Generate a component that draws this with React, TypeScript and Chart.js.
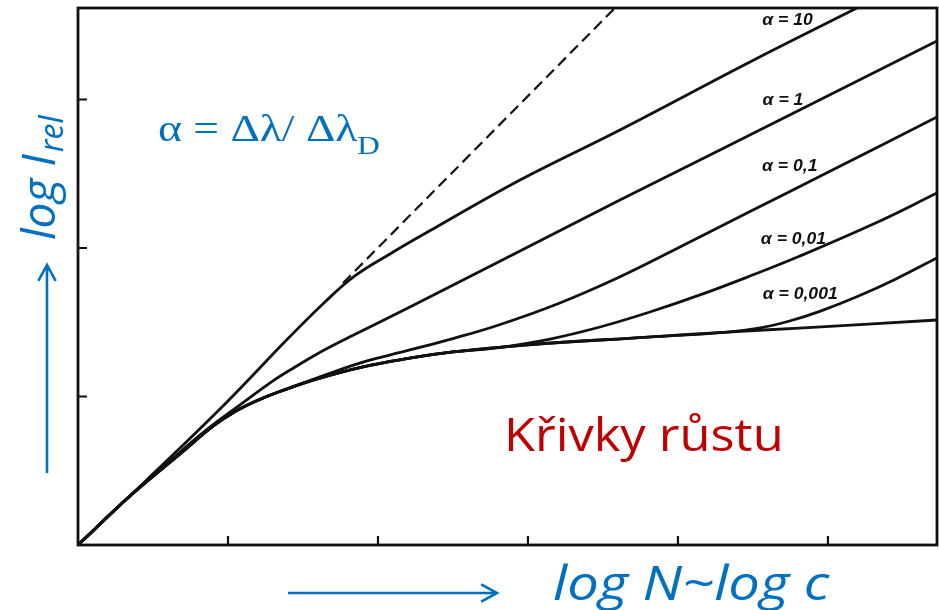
import React, { useEffect, useRef } from "react";
import { Chart, registerables } from "chart.js";

Chart.register(...registerables);

// Axis extents (log N on x, log I_rel on y), in tick units
const X_MAX = 5.727;
const Y_MAX = 3.616;
const xTicks = [1, 2, 3, 4, 5];
const yTicks = [1, 2, 3];

// Curves of growth, one per damping ratio alpha; [log N, log I] pairs
const alpha10: number[][] = [
  [0, 0], [0.35, 0.335], [0.6, 0.575], [1.0, 0.97], [1.4, 1.39], [1.65, 1.64],
  [1.85, 1.815], [2.08, 1.96], [2.367, 2.128], [2.947, 2.458], [3.613, 2.795],
  [4.48, 3.253], [5.193, 3.616],
];
const alpha1: number[][] = [
  [0, 0], [0.35, 0.333], [0.6, 0.555], [0.85, 0.77], [1.08, 0.943], [1.3, 1.105],
  [1.45, 1.2], [1.6, 1.29], [1.8, 1.395], [2.213, 1.603], [2.947, 1.98],
  [3.613, 2.323], [4.28, 2.66], [5.727, 3.394],
];
const alpha01: number[][] = [
  [0, 0], [0.35, 0.333], [0.7, 0.63], [0.9, 0.8], [1.05, 0.9], [1.2, 0.975],
  [1.35, 1.035], [1.6, 1.128], [1.9, 1.232], [2.2, 1.31], [2.5, 1.39], [2.8, 1.48],
  [3.2, 1.625], [3.6, 1.8], [4.0, 2.0], [4.5, 2.255], [5.0, 2.51], [5.727, 2.882],
];
const alpha001: number[][] = [
  [0, 0], [0.35, 0.333], [0.7, 0.63], [0.9, 0.8], [1.05, 0.9], [1.2, 0.975],
  [1.35, 1.035], [1.6, 1.12], [1.9, 1.2], [2.2, 1.256], [2.5, 1.3], [2.793, 1.328],
  [3.147, 1.387], [3.48, 1.468], [3.813, 1.569], [4.147, 1.684], [4.48, 1.811],
  [4.813, 1.946], [5.347, 2.182], [5.727, 2.37],
];
const alpha0001: number[][] = [
  [0, 0], [0.35, 0.333], [0.7, 0.63], [0.9, 0.8], [1.05, 0.9], [1.2, 0.975],
  [1.35, 1.035], [1.6, 1.12], [1.9, 1.2], [2.2, 1.256], [2.5, 1.3], [3.0, 1.348],
  [3.8, 1.4], [4.33, 1.434], [4.55, 1.462], [4.75, 1.51], [4.95, 1.575],
  [5.2, 1.675], [5.45, 1.79], [5.727, 1.933],
];
const pureDoppler: number[][] = [
  [0, 0], [0.35, 0.333], [0.7, 0.63], [0.9, 0.8], [1.05, 0.9], [1.2, 0.975],
  [1.35, 1.035], [1.6, 1.12], [1.9, 1.2], [2.2, 1.256], [2.5, 1.3], [3.0, 1.348],
  [3.8, 1.4], [4.33, 1.434], [4.81, 1.461], [5.727, 1.515],
];
// Linear (optically thin) asymptote
const linearAsymptote: number[][] = [[1.767, 1.764], [3.58, 3.616]];

const curveLabels = ["α = 10", "α = 1", "α = 0,1", "α = 0,01", "α = 0,001"];
const curveLabelAt: number[][] = [
  [4.73, 3.529], [4.7, 2.99], [4.745, 2.545], [4.77, 2.054], [4.815, 1.684],
];

const INK = "#111111";
const BLUE = "#0070C0";
const RED = "#C00000";

const toPoints = (arr: number[][]) => arr.map(([x, y]) => ({ x, y }));

function arrow(ctx: CanvasRenderingContext2D, x1: number, y1: number, x2: number, y2: number) {
  const ang = Math.atan2(y2 - y1, x2 - x1);
  const len = 18;
  const spread = 0.5;
  ctx.beginPath();
  ctx.moveTo(x1, y1);
  ctx.lineTo(x2, y2);
  ctx.moveTo(x2 - len * Math.cos(ang - spread), y2 - len * Math.sin(ang - spread));
  ctx.lineTo(x2, y2);
  ctx.lineTo(x2 - len * Math.cos(ang + spread), y2 - len * Math.sin(ang + spread));
  ctx.stroke();
}

// text drawn with a horizontal stretch factor
function wideText(ctx: CanvasRenderingContext2D, text: string, x: number, y: number, sx: number) {
  ctx.save();
  ctx.translate(x, y);
  ctx.scale(sx, 1);
  ctx.fillText(text, 0, 0);
  const w = ctx.measureText(text).width * sx;
  ctx.restore();
  return w;
}

const decorations = {
  id: "decorations",
  afterDatasetsDraw(chart: any) {
    const { ctx, chartArea, scales } = chart;
    const { left, right, top, bottom } = chartArea;
    ctx.save();

    // frame
    ctx.strokeStyle = INK;
    ctx.lineWidth = 2.8;
    ctx.strokeRect(left, top, right - left, bottom - top);

    // inward ticks
    ctx.lineWidth = 2.2;
    ctx.beginPath();
    for (const v of yTicks) {
      const y = scales.y.getPixelForValue(v);
      ctx.moveTo(left, y);
      ctx.lineTo(left + 9, y);
    }
    for (const v of xTicks) {
      const x = scales.x.getPixelForValue(v);
      ctx.moveTo(x, bottom);
      ctx.lineTo(x, bottom - 9);
    }
    ctx.stroke();

    // curve labels
    ctx.fillStyle = INK;
    ctx.font = "italic bold 16px 'Liberation Sans'";
    ctx.textAlign = "center";
    ctx.textBaseline = "middle";
    curveLabels.forEach((t, i) => {
      const [lx, ly] = curveLabelAt[i];
      ctx.save();
      ctx.translate(scales.x.getPixelForValue(lx), scales.y.getPixelForValue(ly));
      ctx.scale(1.1, 1);
      ctx.fillText(t, 0, 0);
      ctx.restore();
    });

    // formula
    ctx.fillStyle = BLUE;
    ctx.textAlign = "left";
    ctx.textBaseline = "alphabetic";
    ctx.font = "38px 'Liberation Serif'";
    const fw = wideText(ctx, "α = Δλ/ Δλ", 158, 141, 1.2);
    ctx.font = "26px 'Liberation Serif'";
    wideText(ctx, "D", 158 + fw, 154, 1.2);

    // title inside the plot
    ctx.fillStyle = RED;
    ctx.font = "46px 'Open Sans'";
    wideText(ctx, "Křivky růstu", 504, 451, 1.1);

    // axis titles
    ctx.fillStyle = BLUE;
    ctx.font = "italic 48px 'Open Sans'";
    wideText(ctx, "log N~log c", 553, 600, 1.17);

    ctx.save();
    ctx.translate(55, 240);
    ctx.rotate(-Math.PI / 2);
    ctx.font = "italic 46px 'Open Sans'";
    ctx.fillText("log I", 0, 0);
    const lw = ctx.measureText("log I").width;
    ctx.font = "italic 32px 'Open Sans'";
    ctx.fillText("rel", lw + 2, 8);
    ctx.restore();

    // direction arrows
    ctx.strokeStyle = BLUE;
    ctx.lineWidth = 2.6;
    arrow(ctx, 47, 473, 47, 265);
    arrow(ctx, 288, 593, 497, 593);

    ctx.restore();
  },
};

export default function App() {
  const ref = useRef<HTMLCanvasElement>(null);

  useEffect(() => {
    const solid = (d: number[][]) => ({
      data: toPoints(d),
      borderColor: INK,
      borderWidth: 2.8,
      pointRadius: 0,
      tension: 0.4,
      fill: false,
    });
    const chart = new Chart(ref.current!, {
      type: "line",
      data: {
        datasets: [
          solid(pureDoppler),
          solid(alpha0001),
          solid(alpha001),
          solid(alpha01),
          solid(alpha1),
          solid(alpha10),
          {
            data: toPoints(linearAsymptote),
            borderColor: INK,
            borderWidth: 2.2,
            borderDash: [11, 6],
            pointRadius: 0,
            fill: false,
          },
        ],
      },
      options: {
        responsive: false,
        animation: false,
        devicePixelRatio: 1,
        layout: { padding: { left: 78, right: 2, top: 8, bottom: 65 } },
        scales: {
          x: { type: "linear", min: 0, max: X_MAX, display: false },
          y: { type: "linear", min: 0, max: Y_MAX, display: false },
        },
        plugins: { legend: { display: false }, tooltip: { enabled: false } },
      },
      plugins: [decorations],
    });
    return () => chart.destroy();
  }, []);

  return (
    <div style={{ position: "fixed", left: 0, top: 0, width: 939, height: 610, background: "#fff" }}>
      <canvas ref={ref} width={939} height={610} style={{ display: "block" }} />
    </div>
  );
}
